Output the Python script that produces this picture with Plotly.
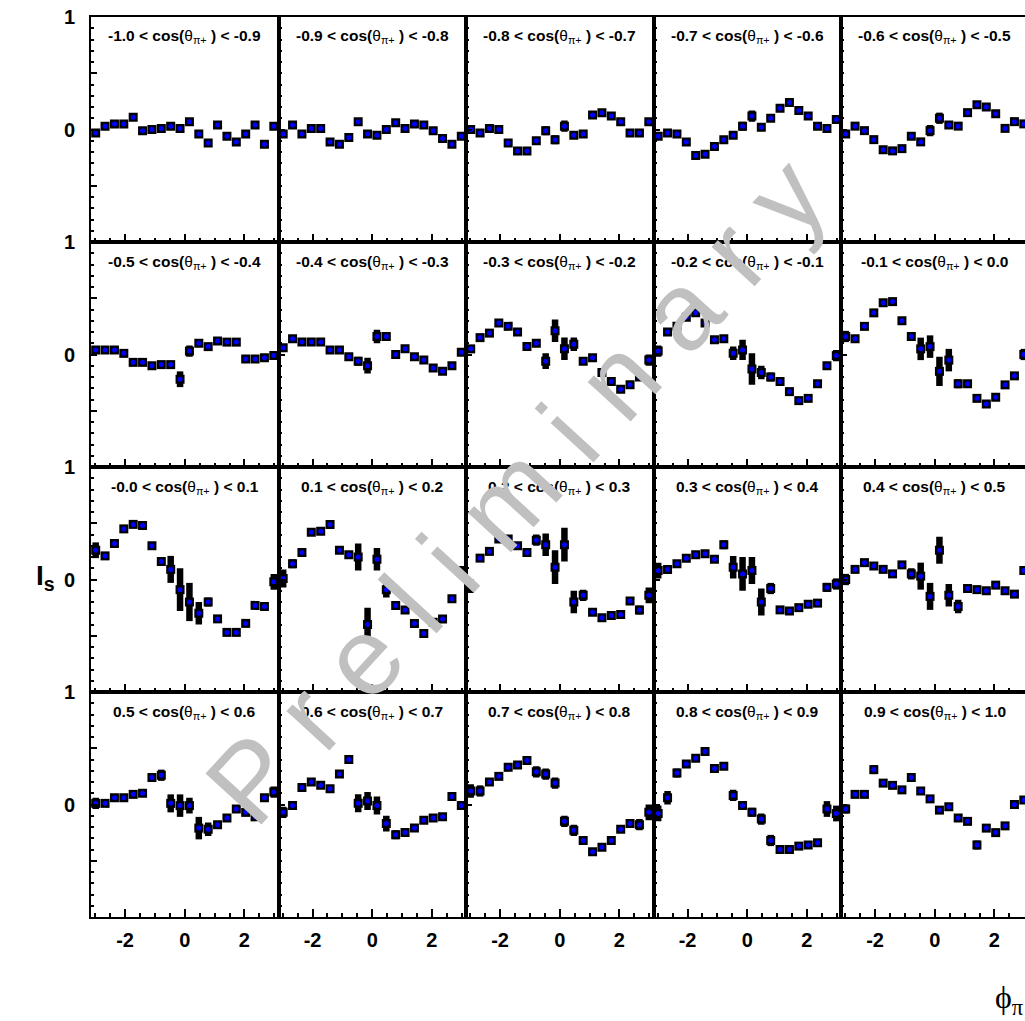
import numpy as np
import plotly.graph_objects as go

# phi_pi bins: 20 equal bins over [-pi, pi]
N_BINS = 20
PHI_EDGES = np.linspace(-np.pi, np.pi, N_BINS + 1)
PHI = 0.5 * (PHI_EDGES[:-1] + PHI_EDGES[1:])

# cos(theta_pi+) slice edges used in the panel titles
COS_LOW = ["-1.0", "-0.9", "-0.8", "-0.7", "-0.6", "-0.5", "-0.4", "-0.3", "-0.2", "-0.1",
           "-0.0", "0.1", "0.2", "0.3", "0.4", "0.5", "0.6", "0.7", "0.8", "0.9"]
COS_HIGH = ["-0.9", "-0.8", "-0.7", "-0.6", "-0.5", "-0.4", "-0.3", "-0.2", "-0.1", "0.0",
            "0.1", "0.2", "0.3", "0.4", "0.5", "0.6", "0.7", "0.8", "0.9", "1.0"]

# I_s values per cos(theta) slice
IS_M10 = [-0.03, 0.03, 0.05, 0.05, 0.11, -0.01, 0.00, 0.01, 0.03, 0.01, 0.07, -0.04, -0.12, 0.04, -0.06, -0.11, -0.04, 0.04, -0.13, 0.03]
IS_M09 = [-0.04, 0.04, -0.04, 0.01, 0.01, -0.11, -0.13, -0.07, 0.07, -0.04, -0.05, 0.00, 0.06, 0.01, 0.05, 0.04, -0.01, -0.08, -0.13, -0.06]
IS_M08 = [0.00, -0.03, 0.01, 0.00, -0.12, -0.19, -0.19, -0.10, -0.01, -0.09, 0.03, -0.05, -0.04, 0.13, 0.15, 0.12, 0.07, -0.03, -0.03, 0.07]
IS_M07 = [-0.06, -0.03, -0.04, -0.11, -0.23, -0.22, -0.15, -0.09, -0.05, 0.03, 0.12, 0.02, 0.10, 0.19, 0.24, 0.17, 0.12, 0.03, 0.01, 0.09]
IS_M06 = [-0.04, 0.03, -0.01, -0.09, -0.18, -0.19, -0.17, -0.06, -0.11, -0.01, 0.10, 0.04, 0.03, 0.15, 0.22, 0.20, 0.14, 0.01, 0.07, 0.05]
IS_M05 = [0.04, 0.04, 0.04, 0.01, -0.07, -0.07, -0.10, -0.09, -0.09, -0.22, 0.03, 0.10, 0.07, 0.12, 0.11, 0.11, -0.04, -0.04, -0.03, -0.01]
IS_M04 = [0.06, 0.14, 0.11, 0.11, 0.11, 0.04, 0.04, -0.02, -0.06, -0.10, 0.16, 0.16, 0.00, 0.05, -0.02, -0.05, -0.12, -0.15, -0.10, 0.02]
IS_M03 = [0.05, 0.15, 0.19, 0.28, 0.25, 0.20, 0.07, 0.10, -0.06, 0.21, 0.05, 0.09, -0.06, -0.03, -0.16, -0.24, -0.31, -0.27, -0.20, -0.05]
IS_M02 = [0.03, 0.20, 0.25, 0.33, 0.37, 0.28, 0.13, 0.14, 0.01, 0.04, -0.13, -0.16, -0.20, -0.24, -0.33, -0.41, -0.39, -0.26, -0.10, -0.01]
IS_M01 = [0.16, 0.14, 0.25, 0.37, 0.46, 0.47, 0.30, 0.16, 0.05, 0.07, -0.15, -0.05, -0.26, -0.26, -0.39, -0.44, -0.38, -0.27, -0.19, 0.00]
IS_P00 = [0.26, 0.21, 0.32, 0.45, 0.49, 0.48, 0.30, 0.16, 0.09, -0.09, -0.20, -0.30, -0.20, -0.35, -0.47, -0.47, -0.39, -0.23, -0.24, -0.02]
IS_P01 = [0.01, 0.14, 0.24, 0.42, 0.43, 0.49, 0.26, 0.22, 0.20, -0.40, 0.18, -0.09, -0.23, -0.27, -0.39, -0.48, -0.38, -0.35, -0.17, 0.07]
IS_P02 = [-0.06, 0.19, 0.25, 0.36, 0.36, 0.30, 0.24, 0.35, 0.31, 0.11, 0.31, -0.20, -0.14, -0.29, -0.34, -0.32, -0.31, -0.19, -0.27, -0.14]
IS_P03 = [0.08, 0.09, 0.14, 0.19, 0.22, 0.23, 0.18, 0.31, 0.11, 0.05, 0.08, -0.20, -0.08, -0.27, -0.28, -0.25, -0.22, -0.21, -0.07, -0.04]
IS_P04 = [0.00, 0.09, 0.15, 0.12, 0.09, 0.05, 0.13, 0.05, 0.03, -0.15, 0.26, -0.14, -0.24, -0.08, -0.09, -0.10, -0.05, -0.10, -0.13, 0.08]
IS_P05 = [0.01, 0.01, 0.06, 0.06, 0.09, 0.10, 0.24, 0.26, 0.01, -0.01, -0.01, -0.21, -0.22, -0.18, -0.12, -0.04, -0.07, -0.11, 0.06, 0.11]
IS_P06 = [-0.07, -0.01, 0.15, 0.20, 0.17, 0.14, 0.27, 0.40, 0.01, 0.03, -0.01, -0.17, -0.27, -0.25, -0.21, -0.14, -0.12, -0.11, 0.07, -0.01]
IS_P07 = [0.12, 0.12, 0.20, 0.25, 0.33, 0.35, 0.39, 0.29, 0.27, 0.19, -0.15, -0.23, -0.32, -0.42, -0.38, -0.32, -0.22, -0.17, -0.18, -0.07]
IS_P08 = [-0.08, 0.06, 0.28, 0.36, 0.41, 0.47, 0.32, 0.34, 0.08, -0.01, -0.07, -0.13, -0.32, -0.40, -0.40, -0.37, -0.36, -0.34, -0.04, -0.08]
IS_P09 = [-0.04, 0.09, 0.09, 0.31, 0.19, 0.17, 0.13, 0.24, 0.12, 0.05, -0.05, -0.02, -0.12, -0.15, -0.36, -0.21, -0.25, -0.19, 0.00, 0.04]

# statistical uncertainties on I_s
ERR_M10 = [0.02, 0.02, 0.02, 0.02, 0.02, 0.02, 0.02, 0.02, 0.02, 0.02, 0.02, 0.03, 0.03, 0.02, 0.02, 0.02, 0.02, 0.02, 0.02, 0.02]
ERR_M09 = [0.02, 0.02, 0.02, 0.02, 0.02, 0.02, 0.02, 0.02, 0.03, 0.02, 0.02, 0.02, 0.02, 0.02, 0.02, 0.02, 0.02, 0.02, 0.02, 0.02]
ERR_M08 = [0.02, 0.02, 0.02, 0.02, 0.02, 0.02, 0.02, 0.02, 0.04, 0.04, 0.05, 0.03, 0.02, 0.02, 0.02, 0.02, 0.02, 0.02, 0.02, 0.03]
ERR_M07 = [0.02, 0.02, 0.02, 0.02, 0.02, 0.02, 0.02, 0.02, 0.03, 0.04, 0.05, 0.03, 0.02, 0.02, 0.02, 0.02, 0.02, 0.02, 0.02, 0.02]
ERR_M06 = [0.03, 0.02, 0.02, 0.02, 0.02, 0.02, 0.02, 0.02, 0.03, 0.05, 0.05, 0.03, 0.02, 0.02, 0.02, 0.02, 0.02, 0.02, 0.02, 0.02]
ERR_M05 = [0.02, 0.02, 0.02, 0.02, 0.02, 0.02, 0.02, 0.02, 0.03, 0.07, 0.05, 0.03, 0.02, 0.02, 0.02, 0.02, 0.02, 0.02, 0.02, 0.02]
ERR_M04 = [0.03, 0.02, 0.02, 0.02, 0.02, 0.02, 0.02, 0.02, 0.04, 0.07, 0.06, 0.04, 0.02, 0.02, 0.02, 0.02, 0.02, 0.02, 0.02, 0.03]
ERR_M03 = [0.03, 0.02, 0.02, 0.02, 0.02, 0.02, 0.02, 0.03, 0.07, 0.10, 0.10, 0.06, 0.03, 0.02, 0.02, 0.02, 0.02, 0.02, 0.02, 0.05]
ERR_M02 = [0.05, 0.03, 0.02, 0.02, 0.02, 0.02, 0.02, 0.03, 0.06, 0.09, 0.14, 0.06, 0.04, 0.03, 0.02, 0.02, 0.02, 0.02, 0.03, 0.05]
ERR_M01 = [0.05, 0.03, 0.02, 0.02, 0.02, 0.02, 0.02, 0.03, 0.10, 0.10, 0.13, 0.10, 0.04, 0.03, 0.02, 0.02, 0.02, 0.02, 0.03, 0.05]
ERR_P00 = [0.07, 0.03, 0.02, 0.02, 0.02, 0.02, 0.02, 0.04, 0.12, 0.19, 0.17, 0.10, 0.04, 0.03, 0.02, 0.02, 0.02, 0.02, 0.03, 0.07]
ERR_P01 = [0.08, 0.04, 0.02, 0.02, 0.02, 0.02, 0.02, 0.03, 0.12, 0.15, 0.10, 0.07, 0.04, 0.03, 0.02, 0.02, 0.02, 0.02, 0.03, 0.05]
ERR_P02 = [0.06, 0.03, 0.02, 0.02, 0.02, 0.02, 0.02, 0.05, 0.10, 0.15, 0.15, 0.10, 0.05, 0.03, 0.02, 0.02, 0.02, 0.02, 0.04, 0.07]
ERR_P03 = [0.07, 0.03, 0.02, 0.02, 0.02, 0.02, 0.02, 0.04, 0.10, 0.15, 0.12, 0.12, 0.05, 0.03, 0.02, 0.02, 0.02, 0.02, 0.04, 0.05]
ERR_P04 = [0.05, 0.03, 0.02, 0.02, 0.02, 0.02, 0.02, 0.05, 0.12, 0.12, 0.12, 0.10, 0.06, 0.03, 0.02, 0.02, 0.02, 0.02, 0.03, 0.04]
ERR_P05 = [0.05, 0.03, 0.02, 0.02, 0.02, 0.02, 0.03, 0.05, 0.08, 0.10, 0.07, 0.10, 0.06, 0.03, 0.02, 0.02, 0.02, 0.02, 0.03, 0.05]
ERR_P06 = [0.05, 0.04, 0.02, 0.02, 0.02, 0.02, 0.03, 0.04, 0.08, 0.08, 0.08, 0.07, 0.04, 0.03, 0.02, 0.02, 0.02, 0.02, 0.04, 0.04]
ERR_P07 = [0.06, 0.05, 0.02, 0.02, 0.02, 0.02, 0.03, 0.05, 0.05, 0.05, 0.05, 0.05, 0.04, 0.03, 0.02, 0.02, 0.02, 0.03, 0.05, 0.07]
ERR_P08 = [0.07, 0.06, 0.04, 0.02, 0.02, 0.02, 0.03, 0.03, 0.05, 0.04, 0.04, 0.05, 0.05, 0.03, 0.02, 0.02, 0.02, 0.03, 0.07, 0.07]
ERR_P09 = [0.04, 0.03, 0.03, 0.04, 0.03, 0.03, 0.03, 0.04, 0.03, 0.03, 0.03, 0.03, 0.03, 0.03, 0.04, 0.03, 0.03, 0.03, 0.03, 0.03]

SLICE_VALUES = [IS_M10, IS_M09, IS_M08, IS_M07, IS_M06, IS_M05, IS_M04, IS_M03, IS_M02, IS_M01,
                IS_P00, IS_P01, IS_P02, IS_P03, IS_P04, IS_P05, IS_P06, IS_P07, IS_P08, IS_P09]
SLICE_ERRORS = [ERR_M10, ERR_M09, ERR_M08, ERR_M07, ERR_M06, ERR_M05, ERR_M04, ERR_M03, ERR_M02, ERR_M01,
                ERR_P00, ERR_P01, ERR_P02, ERR_P03, ERR_P04, ERR_P05, ERR_P06, ERR_P07, ERR_P08, ERR_P09]

# ---- figure geometry (pixels) ----
W, H = 1025, 1021
N_ROWS, N_COLS = 4, 5
PAD_LEFT, PAD_TOP = 91.0, 17.0
PANEL_W, PANEL_H = 187.5, 225.0

LABEL_FONT = "Liberation Sans, Arial, Helvetica, sans-serif"


def py(px_from_top):
    """Paper y coordinate for a distance in pixels from the top of the figure."""
    return 1 - px_from_top / H


fig = go.Figure()
layout = dict(
    width=W, height=H,
    margin=dict(l=0, r=0, t=0, b=0, autoexpand=False),
    paper_bgcolor="white", plot_bgcolor="white",
    showlegend=False,
)
annotations = []

for k in range(N_ROWS * N_COLS):
    r, c = divmod(k, N_COLS)
    idx = k + 1
    sx = "" if idx == 1 else str(idx)
    x0 = PAD_LEFT + c * PANEL_W
    x1 = x0 + PANEL_W
    y0 = PAD_TOP + r * PANEL_H
    y1 = y0 + PANEL_H
    x_hi = np.pi
    if x1 > W:
        # last column runs past the page edge
        x_hi = -np.pi + (W - x0) / PANEL_W * 2 * np.pi
        x1 = W

    bottom_row = (r == N_ROWS - 1)
    first_col = (c == 0)

    layout["xaxis" + sx] = dict(
        domain=[x0 / W, x1 / W], anchor="y" + sx, range=[-np.pi, x_hi],
        showline=True, mirror=True, linecolor="black", linewidth=2,
        showgrid=False, zeroline=False,
        ticks="inside", ticklen=8, tickwidth=1.5, tickcolor="black",
        tickvals=[-2, 0, 2], ticktext=["-2", "0", "2"],
        showticklabels=bottom_row, ticklabelstandoff=4,
        tickfont=dict(family=LABEL_FONT, size=20, color="black", weight="bold"),
        minor=dict(ticks="inside", ticklen=4, tickwidth=1.5, tickcolor="black",
                   tick0=0, dtick=0.5, showgrid=False),
    )
    layout["yaxis" + sx] = dict(
        domain=[py(y1), py(y0)], anchor="x" + sx, range=[-1, 1],
        showline=True, mirror=True, linecolor="black", linewidth=2,
        showgrid=False, zeroline=False,
        ticks="inside", ticklen=6, tickwidth=1.5, tickcolor="black",
        tickvals=[-1, -0.5, 0, 0.5, 1], ticktext=["", "", "0", "", "1"],
        showticklabels=first_col, ticklabelstandoff=10,
        tickfont=dict(family=LABEL_FONT, size=20, color="black", weight="bold"),
        minor=dict(ticks="inside", ticklen=3, tickwidth=1.5, tickcolor="black",
                   tick0=0, dtick=0.1, showgrid=False),
    )

    vals = SLICE_VALUES[k]
    errs = SLICE_ERRORS[k]
    # black box + thick vertical error bar
    fig.add_trace(go.Scatter(
        x=PHI, y=vals, xaxis="x" + sx, yaxis="y" + sx, mode="markers",
        marker=dict(symbol="square", size=9, color="black", line=dict(width=0)),
        error_y=dict(type="data", array=errs, visible=True, color="black",
                     thickness=6.5, width=0),
        hoverinfo="skip",
    ))
    # blue point on top
    fig.add_trace(go.Scatter(
        x=PHI, y=vals, xaxis="x" + sx, yaxis="y" + sx, mode="markers",
        marker=dict(symbol="circle", size=5, color="#0000ff", line=dict(width=0)),
        hoverinfo="skip",
    ))

    title = (f"<b>{COS_LOW[k]} &lt; cos(</b>θ<sub>π+</sub><b> ) &lt; {COS_HIGH[k]}</b>")
    annotations.append(dict(
        text=title, xref="paper", yref="paper",
        x=(PAD_LEFT + c * PANEL_W + PANEL_W / 2) / W, y=py(y0 + 20),
        xanchor="center", yanchor="middle", showarrow=False,
        font=dict(family=LABEL_FONT, size=15.5, color="black"),
    ))

# axis titles
annotations.append(dict(
    text="<b>I<sub>s</sub></b>", xref="paper", yref="paper",
    x=45 / W, y=py(577), xanchor="center", yanchor="middle", showarrow=False,
    font=dict(family=LABEL_FONT, size=28, color="black"),
))
annotations.append(dict(
    text="ϕ<sub>π</sub>", xref="paper", yref="paper",
    x=993 / W, y=py(999), xanchor="left", yanchor="middle", showarrow=False,
    font=dict(family="Liberation Serif, DejaVu Serif, serif", size=32, color="black"),
))

# watermark over the grid
annotations.append(dict(
    text="P r e l i m i n a r y", xref="paper", yref="paper",
    x=515 / W, y=py(490), xanchor="center", yanchor="middle", showarrow=False,
    textangle=-47.5,
    font=dict(family="Liberation Sans, Arial, sans-serif", size=110, color="#c0c0c0"),
))

layout["annotations"] = annotations
fig.update_layout(**layout)

# the figure fills the page exactly, so drop the default body margin
fig.write_html(
    "out.html",
    post_script="document.documentElement.style.margin='0';"
                "document.body.style.margin='0';"
                "document.body.style.overflow='hidden';",
)
